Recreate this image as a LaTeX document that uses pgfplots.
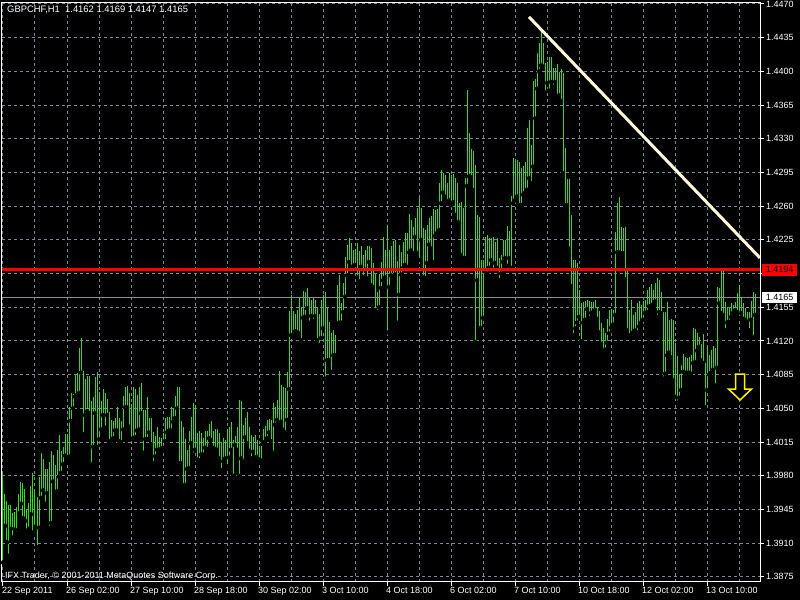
\documentclass[border=0pt]{standalone}
\usepackage{pgfplots}
\pgfplotsset{compat=1.18}
\usepackage{pgfplotstable}
\usepackage{fontspec}
\setmainfont{Liberation Sans}
\definecolor{barc}{RGB}{50,220,30}
\definecolor{gridc}{RGB}{119,136,153}
\definecolor{trendc}{RGB}{255,248,220}
\definecolor{bidc}{RGB}{140,140,150}
\newcommand\mtfont{\fontsize{9bp}{10.8bp}\selectfont}

\pgfdeclareplotmark{mtdown}{%
  \pgfpathmoveto{\pgfpoint{0bp}{0bp}}%
  \pgfpathlineto{\pgfpoint{11.5bp}{11bp}}%
  \pgfpathlineto{\pgfpoint{4.5bp}{11bp}}%
  \pgfpathlineto{\pgfpoint{4.5bp}{26bp}}%
  \pgfpathlineto{\pgfpoint{-4.5bp}{26bp}}%
  \pgfpathlineto{\pgfpoint{-4.5bp}{11bp}}%
  \pgfpathlineto{\pgfpoint{-11.5bp}{11bp}}%
  \pgfpathclose
  \pgfusepath{fill,stroke}}

\pgfplotstableread{
i lo hi
0 1.3890 1.3983
1 1.3928 1.3961
2 1.3911 1.3954
3 1.3897 1.3950
4 1.3925 1.3950
5 1.3916 1.3941
6 1.3924 1.3942
7 1.3920 1.3948
8 1.3941 1.3961
9 1.3951 1.3974
10 1.3936 1.3972
11 1.3933 1.3966
12 1.3923 1.3946
13 1.3925 1.3952
14 1.3940 1.3969
15 1.3921 1.3983
16 1.3927 1.3963
17 1.3906 1.3958
18 1.3926 1.3979
19 1.3957 1.4004
20 1.3965 1.3997
21 1.3951 1.3987
22 1.3962 1.3987
23 1.3926 1.3994
24 1.3931 1.4006
25 1.3974 1.4002
26 1.3960 1.3991
27 1.3964 1.4007
28 1.3979 1.4022
29 1.3983 1.4006
30 1.3992 1.4010
31 1.4001 1.4023
32 1.3996 1.4023
33 1.4000 1.4051
34 1.4037 1.4066
35 1.4050 1.4065
36 1.4062 1.4086
37 1.4064 1.4087
38 1.4066 1.4113
39 1.4087 1.4123
40 1.4023 1.4089
41 1.4043 1.4080
42 1.4047 1.4084
43 1.4045 1.4084
44 1.3992 1.4058
45 1.4010 1.4062
46 1.4045 1.4083
47 1.4010 1.4088
48 1.4018 1.4067
49 1.4028 1.4058
50 1.4043 1.4070
51 1.4030 1.4066
52 1.4043 1.4060
53 1.4016 1.4046
54 1.4016 1.4038
55 1.4019 1.4037
56 1.4027 1.4040
57 1.4027 1.4051
58 1.4016 1.4040
59 1.4015 1.4037
60 1.4028 1.4063
61 1.4051 1.4072
62 1.4051 1.4073
63 1.4031 1.4066
64 1.4018 1.4055
65 1.4019 1.4072
66 1.4020 1.4070
67 1.4027 1.4064
68 1.4028 1.4072
69 1.4045 1.4076
70 1.4004 1.4048
71 1.4018 1.4048
72 1.4018 1.4062
73 1.4025 1.4040
74 1.4013 1.4040
75 1.3993 1.4025
76 1.4000 1.4021
77 1.4007 1.4031
78 1.4006 1.4020
79 1.4008 1.4019
80 1.4009 1.4024
81 1.4016 1.4040
82 1.4025 1.4041
83 1.4027 1.4041
84 1.4027 1.4051
85 1.4036 1.4050
86 1.4040 1.4063
87 1.4050 1.4072
88 1.3993 1.4072
89 1.3993 1.4037
90 1.3970 1.4031
91 1.3970 1.4018
92 1.3987 1.4007
93 1.3988 1.4026
94 1.4014 1.4041
95 1.4002 1.4056
96 1.4007 1.4053
97 1.3997 1.4024
98 1.3996 1.4027
99 1.4002 1.4024
100 1.4002 1.4019
101 1.4009 1.4027
102 1.4008 1.4027
103 1.4019 1.4034
104 1.4017 1.4037
105 1.4009 1.4027
106 1.4008 1.4029
107 1.4007 1.4029
108 1.3998 1.4024
109 1.3986 1.4015
110 1.3995 1.4019
111 1.3998 1.4017
112 1.3990 1.4029
113 1.3999 1.4031
114 1.4007 1.4036
115 1.3980 1.4017
116 1.4012 1.4021
117 1.4007 1.4031
118 1.3980 1.4059
119 1.3998 1.4058
120 1.3995 1.4033
121 1.4020 1.4040
122 1.4014 1.4046
123 1.4006 1.4031
124 1.3998 1.4022
125 1.4005 1.4020
126 1.3999 1.4022
127 1.3999 1.4017
128 1.3997 1.4011
129 1.3996 1.4011
130 1.4015 1.4029
131 1.4015 1.4032
132 1.4019 1.4038
133 1.4025 1.4039
134 1.4016 1.4038
135 1.4004 1.4056
136 1.4033 1.4051
137 1.4038 1.4059
138 1.4035 1.4089
139 1.4036 1.4074
140 1.4028 1.4072
141 1.4025 1.4071
142 1.4038 1.4088
143 1.4070 1.4151
144 1.4126 1.4168
145 1.4126 1.4151
146 1.4130 1.4148
147 1.4129 1.4152
148 1.4128 1.4165
149 1.4121 1.4155
150 1.4144 1.4172
151 1.4145 1.4171
152 1.4154 1.4175
153 1.4139 1.4165
154 1.4146 1.4163
155 1.4141 1.4165
156 1.4146 1.4163
157 1.4121 1.4155
158 1.4116 1.4148
159 1.4123 1.4163
160 1.4133 1.4168
161 1.4081 1.4171
162 1.4100 1.4155
163 1.4100 1.4140
164 1.4088 1.4128
165 1.4105 1.4131
166 1.4105 1.4126
167 1.4138 1.4178
168 1.4139 1.4188
169 1.4139 1.4159
170 1.4150 1.4180
171 1.4166 1.4207
172 1.4188 1.4220
173 1.4202 1.4227
174 1.4197 1.4222
175 1.4196 1.4214
176 1.4199 1.4215
177 1.4186 1.4222
178 1.4182 1.4213
179 1.4197 1.4219
180 1.4186 1.4209
181 1.4194 1.4214
182 1.4185 1.4219
183 1.4202 1.4219
184 1.4178 1.4217
185 1.4176 1.4201
186 1.4152 1.4190
187 1.4150 1.4171
188 1.4155 1.4190
189 1.4175 1.4202
190 1.4183 1.4228
191 1.4186 1.4214
192 1.4129 1.4240
193 1.4176 1.4214
194 1.4188 1.4219
195 1.4187 1.4224
196 1.4189 1.4225
197 1.4139 1.4203
198 1.4168 1.4220
199 1.4189 1.4212
200 1.4196 1.4223
201 1.4199 1.4232
202 1.4197 1.4232
203 1.4212 1.4252
204 1.4214 1.4246
205 1.4211 1.4238
206 1.4228 1.4248
207 1.4211 1.4258
208 1.4204 1.4268
209 1.4225 1.4258
210 1.4186 1.4237
211 1.4185 1.4235
212 1.4201 1.4240
213 1.4220 1.4248
214 1.4216 1.4250
215 1.4202 1.4257
216 1.4229 1.4256
217 1.4232 1.4257
218 1.4235 1.4284
219 1.4263 1.4298
220 1.4274 1.4294
221 1.4270 1.4292
222 1.4263 1.4284
223 1.4266 1.4294
224 1.4261 1.4292
225 1.4264 1.4293
226 1.4251 1.4289
227 1.4243 1.4284
228 1.4243 1.4263
229 1.4209 1.4264
230 1.4206 1.4258
231 1.4206 1.4289
232 1.4281 1.4381
233 1.4291 1.4336
234 1.4290 1.4319
235 1.4277 1.4317
236 1.4119 1.4303
237 1.4183 1.4251
238 1.4133 1.4249
239 1.4133 1.4204
240 1.4144 1.4204
241 1.4192 1.4228
242 1.4190 1.4230
243 1.4196 1.4227
244 1.4204 1.4227
245 1.4194 1.4228
246 1.4201 1.4223
247 1.4196 1.4227
248 1.4183 1.4206
249 1.4190 1.4209
250 1.4202 1.4225
251 1.4206 1.4225
252 1.4198 1.4239
253 1.4206 1.4234
254 1.4196 1.4271
255 1.4263 1.4310
256 1.4266 1.4308
257 1.4270 1.4308
258 1.4261 1.4306
259 1.4261 1.4300
260 1.4272 1.4302
261 1.4274 1.4306
262 1.4277 1.4341
263 1.4289 1.4349
264 1.4284 1.4324
265 1.4301 1.4390
266 1.4351 1.4392
267 1.4382 1.4419
268 1.4400 1.4429
269 1.4406 1.4443
270 1.4405 1.4429
271 1.4378 1.4409
272 1.4388 1.4410
273 1.4380 1.4415
274 1.4389 1.4415
275 1.4384 1.4403
276 1.4389 1.4404
277 1.4373 1.4408
278 1.4375 1.4399
279 1.4369 1.4402
280 1.4294 1.4398
281 1.4261 1.4320
282 1.4261 1.4288
283 1.4216 1.4288
284 1.4177 1.4251
285 1.4126 1.4204
286 1.4133 1.4204
287 1.4139 1.4201
288 1.4145 1.4173
289 1.4120 1.4159
290 1.4139 1.4160
291 1.4142 1.4161
292 1.4153 1.4163
293 1.4144 1.4162
294 1.4149 1.4160
295 1.4150 1.4160
296 1.4152 1.4163
297 1.4143 1.4155
298 1.4129 1.4151
299 1.4117 1.4139
300 1.4109 1.4133
301 1.4111 1.4128
302 1.4118 1.4143
303 1.4128 1.4152
304 1.4134 1.4152
305 1.4137 1.4152
306 1.4147 1.4233
307 1.4212 1.4263
308 1.4212 1.4270
309 1.4211 1.4238
310 1.4211 1.4237
311 1.4184 1.4238
312 1.4131 1.4194
313 1.4126 1.4152
314 1.4126 1.4163
315 1.4129 1.4147
316 1.4131 1.4150
317 1.4129 1.4159
318 1.4135 1.4161
319 1.4139 1.4157
320 1.4142 1.4162
321 1.4149 1.4163
322 1.4150 1.4173
323 1.4156 1.4176
324 1.4155 1.4179
325 1.4158 1.4173
326 1.4161 1.4180
327 1.4145 1.4185
328 1.4150 1.4183
329 1.4149 1.4171
330 1.4081 1.4150
331 1.4086 1.4150
332 1.4105 1.4160
333 1.4108 1.4142
334 1.4103 1.4143
335 1.4079 1.4142
336 1.4062 1.4118
337 1.4056 1.4104
338 1.4061 1.4086
339 1.4069 1.4095
340 1.4088 1.4106
341 1.4087 1.4103
342 1.4087 1.4102
343 1.4087 1.4103
344 1.4086 1.4105
345 1.4097 1.4133
346 1.4098 1.4132
347 1.4110 1.4128
348 1.4114 1.4124
349 1.4100 1.4117
350 1.4097 1.4127
351 1.4051 1.4097
352 1.4069 1.4115
353 1.4085 1.4105
354 1.4087 1.4111
355 1.4090 1.4115
356 1.4074 1.4113
357 1.4092 1.4176
358 1.4159 1.4175
359 1.4149 1.4196
360 1.4147 1.4193
361 1.4131 1.4160
362 1.4139 1.4155
363 1.4140 1.4154
364 1.4145 1.4159
365 1.4149 1.4157
366 1.4152 1.4160
367 1.4150 1.4170
368 1.4144 1.4178
369 1.4149 1.4166
370 1.4143 1.4159
371 1.4142 1.4154
372 1.4140 1.4150
373 1.4131 1.4150
374 1.4142 1.4162
375 1.4124 1.4171
376 1.4147 1.4169
}\bars

\begin{document}
\begin{tikzpicture}[x=1bp,y=1bp]
\useasboundingbox (-2,-18) rectangle (798,582);
\fill[black] (-2,-18) rectangle (798,582);
\begin{axis}[
  at={(0,0)}, anchor=south west,
  scale only axis, width=758bp, height=579bp,
  xmin=-0.5, xmax=378.5, ymin=1.38697, ymax=1.44710,
  clip mode=individual,
  axis line style={white, line width=1bp},
  tick style={white, line width=1bp},
  tick align=outside,
  major tick length=4bp, minor tick length=0bp,
  xtick pos=bottom, ytick pos=right,
  yticklabel pos=right,
  xtick={0,32,...,352},
  minor xtick={16,48,...,368},
  xticklabels={22 Sep 2011,26 Sep 02:00,27 Sep 10:00,28 Sep 18:00,30 Sep 02:00,3 Oct 10:00,4 Oct 18:00,6 Oct 02:00,7 Oct 10:00,10 Oct 18:00,12 Oct 02:00,13 Oct 10:00},
  ytick={1.3875,1.3910,1.3945,1.3980,1.4015,1.4050,1.4085,1.4120,1.4155,1.4190,1.4225,1.4260,1.4295,1.4330,1.4365,1.4400,1.4435,1.4470},
  yticklabels={1.3875,1.3910,1.3945,1.3980,1.4015,1.4050,1.4085,1.4120,1.4155,{},1.4225,1.4260,1.4295,1.4330,1.4365,1.4400,1.4435,1.4470},
  every tick label/.append style={text=white, font=\mtfont},
  xticklabel style={anchor=north west, xshift=-2bp, inner sep=1bp},
  yticklabel style={anchor=west, inner sep=2bp},
  xmajorgrids, xminorgrids, ymajorgrids,
  major grid style={gridc, dash pattern=on 3bp off 3bp, line width=1bp},
  minor grid style={gridc, dash pattern=on 3bp off 3bp, line width=1bp},
]
% bid line
\addplot[bidc, line width=1bp, forget plot] coordinates {(-0.5,1.4165) (378.5,1.4165)};
% H1 bars, low to high
\addplot[only marks, mark=none, forget plot,
  error bars/.cd, y dir=plus, y explicit, error mark=none,
  error bar style={draw=barc, line width=1bp, solid}]
  table[x=i, y=lo, y error expr=\thisrow{hi}-\thisrow{lo}] {\bars};
% horizontal level
\addplot[red, line width=3.5bp, forget plot] coordinates {(-0.5,1.4194) (378.5,1.4194)};
% trend line
\addplot[trendc, line width=3bp, forget plot] coordinates {(263,1.44565) (378.5,1.42062)};
% down arrow
\addplot[only marks, mark=mtdown, mark options={draw=yellow, fill=black, line width=1.5bp, solid}, forget plot]
  coordinates {(368.5,1.40587)};
\coordinate (redlbl) at (axis cs:378.5,1.4194);
\coordinate (bidlbl) at (axis cs:378.5,1.4165);
\end{axis}
\node[anchor=west, fill=red, text=black, inner sep=0bp, minimum width=35bp, minimum height=12bp, xshift=2bp, font=\mtfont] at (redlbl) {1.4194};
\node[anchor=west, fill=white, text=black, inner sep=0bp, minimum width=35bp, minimum height=11bp, xshift=2bp, font=\mtfont] at (bidlbl) {1.4165};
\node[anchor=north west, inner sep=0bp, text=white, font=\fontsize{9.4bp}{11bp}\selectfont] at (5,576) {GBPCHF,H1\ \ 1.4162 1.4169 1.4147 1.4165};
\node[anchor=base west, inner sep=0bp, text=white, font=\mtfont] at (3,3) {IFX Trader, © 2001-2011 MetaQuotes Software Corp.};
\end{tikzpicture}
\end{document}
